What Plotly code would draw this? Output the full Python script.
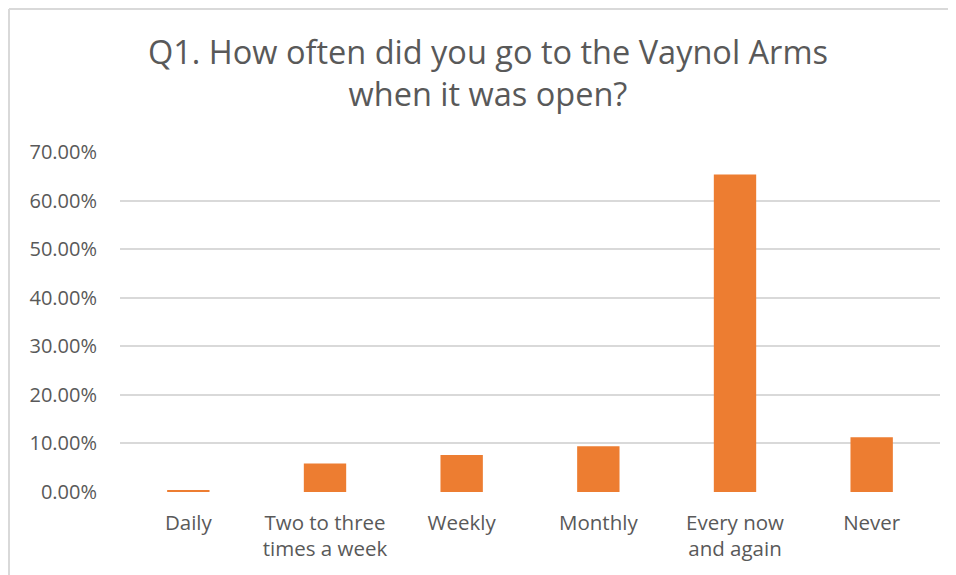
import plotly.graph_objs as go

# survey answers and share of respondents
categories = ['Daily', 'Two to three<br>times a week', 'Weekly', 'Monthly',
              'Every now<br>and again', 'Never']
shares = [0.0038, 0.0585, 0.0762, 0.0941, 0.6535, 0.1126]
y_ticks = [0, 0.1, 0.2, 0.3, 0.4, 0.5, 0.6, 0.7]

font_face = 'Open Sans, Noto Sans, sans-serif'
grey_text = '#595959'
frame_col = '#D9D9D9'

fig = go.Figure(data=[go.Bar(
    x=categories,
    y=shares,
    marker=dict(color='#ED7D31', line=dict(width=0)),
)])

# frame edges in paper units (plot area is 820 x 340 px)
fx = 1 / 820 - 112 / 820
fy = 1 + 143 / 340

fig.update_layout(
    width=956,
    height=575,
    paper_bgcolor='white',
    plot_bgcolor='white',
    bargap=0.69,
    showlegend=False,
    font=dict(family=font_face, color=grey_text),
    margin=dict(l=112, r=24, t=144, b=91, autoexpand=False),
    xaxis=dict(
        showgrid=False,
        showline=False,
        ticks='',
        tickfont=dict(size=20.5, color=grey_text),
        ticklabelstandoff=16,
        automargin=False,
    ),
    yaxis=dict(
        range=[0, 0.7],
        tickvals=y_ticks,
        tickformat='.2%',
        showgrid=True,
        gridcolor='#D9D9D9',
        gridwidth=1.5,
        zeroline=False,
        showline=False,
        ticks='',
        tickfont=dict(size=20, color=grey_text),
        ticklabelstandoff=22,
        automargin=False,
    ),
    annotations=[dict(
        text='Q1. How often did you go to the Vaynol Arms<br>when it was open?',
        xref='paper', yref='paper',
        x=0.4488, y=1.234,
        xanchor='center', yanchor='middle',
        showarrow=False,
        font=dict(size=32.5, color=grey_text, family=font_face),
    )],
    # chart frame: only left and top edges show in the picture
    shapes=[
        dict(type='line', xref='paper', yref='paper',
             x0=fx, x1=fx, y0=-0.3, y1=fy,
             line=dict(color=frame_col, width=2), layer='below'),
        dict(type='line', xref='paper', yref='paper',
             x0=fx, x1=1.1, y0=fy, y1=fy,
             line=dict(color=frame_col, width=2), layer='below'),
    ],
)

fig.write_html("out.html")
